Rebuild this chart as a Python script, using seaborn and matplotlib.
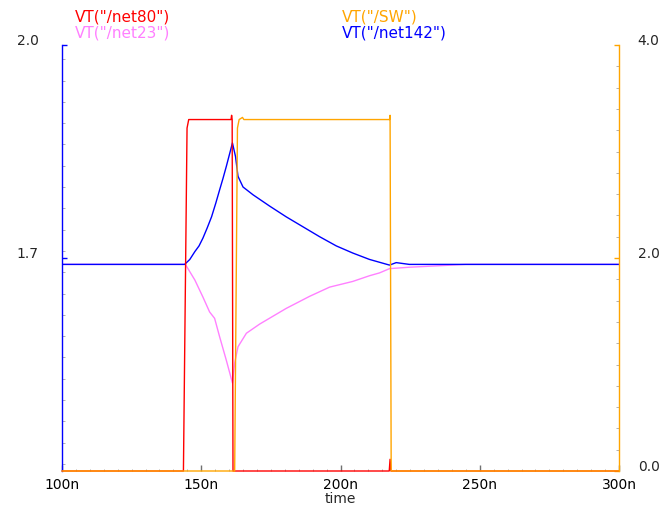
import numpy as np
import pandas as pd
import seaborn as sns
import matplotlib
matplotlib.use("Agg")
import matplotlib.pyplot as plt
from matplotlib.ticker import MultipleLocator

# ---- data (time in ns, voltage in V) ----
t_net80 = [100, 143.6, 144.9, 145.5, 160.7, 160.9, 161.1, 161.4, 217.5, 217.8, 218.1, 300]
v_net80 = [0.0, 0.0, 3.22, 3.3, 3.3, 3.34, 3.3, 0.0, 0.0, 0.11, 0.0, 0.0]

t_sw = [100, 162.0, 163.0, 163.6, 164.8, 165.3, 217.6, 217.8, 218.2, 300]
v_sw = [0.0, 0.0, 3.22, 3.3, 3.32, 3.3, 3.3, 3.34, 0.0, 0.0]

t_net142 = [100, 144.0, 144.3, 145.9, 147.7, 149.2, 150.6, 152.1, 153.7, 155.2, 156.6,
            157.8, 159.0, 160.2, 161.2, 162.3, 163.2, 165.0, 168.6, 174.6, 180.5,
            186.5, 192.5, 198.5, 204.4, 210.4, 217.6, 220.0, 224.7, 300]
v_net142 = [1.691, 1.691, 1.692, 1.698, 1.709, 1.717, 1.728, 1.742, 1.758, 1.777, 1.796,
            1.812, 1.829, 1.847, 1.862, 1.843, 1.815, 1.800, 1.789, 1.773, 1.758,
            1.744, 1.730, 1.717, 1.707, 1.698, 1.690, 1.6935, 1.691, 1.691]

t_net23 = [100, 144.0, 144.3, 147.7, 150.6, 153.0, 154.8, 156.6, 159.0, 161.2, 162.0,
           163.2, 166.2, 171.0, 180.5, 188.9, 196.1, 204.4, 210.4, 214.0, 217.6,
           224.7, 235.0, 245.0, 300]
v_net23 = [1.691, 1.691, 1.691, 1.669, 1.645, 1.624, 1.615, 1.589, 1.556, 1.524, 1.552,
           1.575, 1.594, 1.607, 1.629, 1.646, 1.659, 1.667, 1.675, 1.679, 1.685,
           1.687, 1.689, 1.691, 1.691]

x_ticks = [100, 150, 200, 250, 300]
x_labels = ["100n", "150n", "200n", "250n", "300n"]
left_ticks = [1.7, 2.0]
left_labels = ["1.7", "2.0"]
right_ticks = [0.0, 2.0, 4.0]
right_labels = ["0.0", "2.0", "4.0"]

names = ['VT("/net80")', 'VT("/net23")', 'VT("/SW")', 'VT("/net142")']
colors = ["#ff0000", "#ff80ff", "#ffa500", "#0000ff"]

sns.set_theme(style="white")
plt.rcParams["font.family"] = ["DejaVu Sans"]

fig = plt.figure(figsize=(6.64, 5.09), dpi=100)
ax = fig.add_axes([62/664, 1 - 471/509, (619-62)/664, (471-45)/509])
ax2 = ax.twinx()
ax.patch.set_alpha(0)

lw = 1.0
sns.lineplot(x=t_net23, y=v_net23, ax=ax, color=colors[1], lw=lw, estimator=None, sort=False)
sns.lineplot(x=t_net142, y=v_net142, ax=ax, color=colors[3], lw=lw, estimator=None, sort=False)
sns.lineplot(x=t_net80, y=v_net80, ax=ax2, color=colors[0], lw=lw, estimator=None, sort=False,
             clip_on=False)
sns.lineplot(x=t_sw, y=v_sw, ax=ax2, color=colors[2], lw=lw, estimator=None, sort=False,
             clip_on=False)

ax.set_xlim(100, 300)
ax.set_ylim(1.4, 2.0)
ax2.set_ylim(0, 4.0)

# spines
for s in ["top", "right", "bottom"]:
    ax.spines[s].set_visible(False)
ax.spines["left"].set_color(colors[3])
ax.spines["left"].set_linewidth(1.0)
for s in ["top", "left", "bottom"]:
    ax2.spines[s].set_visible(False)
ax2.spines["right"].set_color(colors[2])
ax2.spines["right"].set_linewidth(1.0)

# x ticks
ax.set_xticks(x_ticks)
ax.set_xticklabels(x_labels, fontsize=10)
ax.xaxis.set_minor_locator(MultipleLocator(5))
ax.tick_params(axis="x", which="major", direction="in", length=4, width=1.0,
               color="#707070", pad=5, bottom=True, labelcolor="black")
ax.tick_params(axis="x", which="minor", direction="in", length=1.8, width=0.7,
               color="#b0b0b0", bottom=True)

# left y ticks
ax.set_yticks(left_ticks)
ax.set_yticklabels(left_labels, fontsize=10)
ax.yaxis.set_minor_locator(MultipleLocator(0.03))
ax.tick_params(axis="y", which="major", direction="in", length=3.6, width=1.0,
               color=colors[3], pad=17, left=True)
ax.tick_params(axis="y", which="minor", direction="in", length=2, width=0.7,
               color="#b0b0b0", left=True)
for lab in ax.get_yticklabels():
    lab.set_va("baseline")

# right y ticks
ax2.set_yticks(right_ticks)
ax2.set_yticklabels(right_labels, fontsize=10)
ax2.yaxis.set_minor_locator(MultipleLocator(0.2))
ax2.tick_params(axis="y", which="major", direction="in", length=3.6, width=1.0,
                color=colors[2], pad=13.5, right=True)
ax2.tick_params(axis="y", which="minor", direction="in", length=2, width=0.7,
                color="#b0b0b0", right=True)
for lab in ax2.get_yticklabels():
    lab.set_va("baseline")

ax.set_xlabel("time", fontsize=10, labelpad=0)
ax.set_ylabel("")
ax2.set_ylabel("")
ax.grid(False)
ax2.grid(False)

# trace names at the top
fig.text(75/664, 1 - 17/509, names[0], color=colors[0], fontsize=11, va="center", ha="left")
fig.text(75/664, 1 - 33/509, names[1], color=colors[1], fontsize=11, va="center", ha="left")
fig.text(342/664, 1 - 17/509, names[2], color=colors[2], fontsize=11, va="center", ha="left")
fig.text(342/664, 1 - 33/509, names[3], color=colors[3], fontsize=11, va="center", ha="left")

fig.savefig("out.png", dpi=100, facecolor="white")
